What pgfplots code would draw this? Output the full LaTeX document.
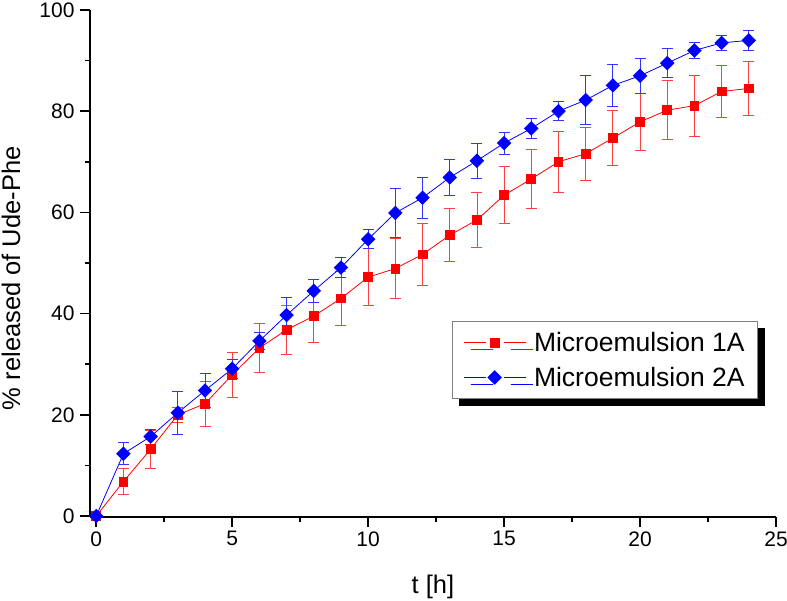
\documentclass[border=0pt]{standalone}
\usepackage{pgfplots}
\usepackage{pgfplotstable}
\pgfplotsset{compat=1.18}
\usepackage{fontspec}
\setmainfont{Liberation Sans}
\usetikzlibrary{shadows}

\pgfplotstableread{
x red rerr blue berr
0 0 0 0 0
1 6.8 2.6 12.3 2.2
2 13.2 3.7 15.7 1.5
3 20.0 1.5 20.4 4.2
4 22.2 4.4 24.8 3.4
5 27.9 4.5 29.1 1.9
6 33.2 4.8 34.6 1.6
7 36.8 4.9 39.7 3.5
8 39.5 5.2 44.5 2.3
9 43.0 5.4 49.1 2.0
10 47.2 5.6 54.7 1.9
11 48.9 5.9 59.9 4.8
12 51.7 6.1 62.9 4.1
13 55.5 5.2 66.9 3.5
14 58.5 5.4 70.2 3.5
15 63.4 5.6 73.7 2.2
16 66.6 5.9 76.6 2.0
17 70.0 6.1 80.0 1.9
18 71.6 5.2 82.2 4.8
19 74.7 5.5 85.1 4.1
20 77.9 5.6 87.0 3.4
21 80.2 5.8 89.5 2.9
22 81.1 6.0 92.0 1.5
23 83.9 5.2 93.5 1.5
24 84.5 5.4 94.0 2.0
}\datatable

\begin{document}
\begin{tikzpicture}
\begin{axis}[
  at={(0,0)}, anchor=south west,
  scale only axis,
  width=686pt, height=507pt,
  xmin=-0.23, xmax=25, ymin=-0.2, ymax=100,
  axis lines*=left,
  axis line style={line width=1.6pt},
  every tick/.style={line width=1.6pt, black},
  tick align=outside,
  major tick length=10pt, minor tick length=5pt,
  xtick={0,5,...,25}, minor xtick={2.5,7.5,...,22.5},
  ytick={0,20,...,100}, minor ytick={10,30,...,90},
  /pgf/number format/assume math mode=true,
  tick label style={font=\fontsize{21}{24}\selectfont},
  xticklabel style={yshift=-1pt},
  yticklabel style={xshift=-2pt},
  label style={font=\fontsize{25.5}{30}\selectfont},
  xlabel={t [h]}, ylabel={\% released of Ude-Phe},
  xlabel style={at={(axis description cs:0.5,-0.137)}, anchor=center},
  ylabel style={at={(axis description cs:-0.115,0.471)}, anchor=center},
  clip=false,
  legend cell align=left,
  legend image code/.code={
    \draw[#1, mark=none, line width=0.6pt] (0pt,0pt) -- (22pt,0pt);
    \draw[#1, mark=none, line width=0.6pt] (40pt,0pt) -- (62pt,0pt);
    \draw[#1, only marks] plot coordinates {(31pt,0pt)};
    \path (68pt,0pt);},
  legend style={at={(axis cs:13.08,38.54)}, anchor=north west, draw=gray, line width=0.8pt,
    font=\fontsize{26.5}{31}\selectfont, inner xsep=11pt, inner ysep=9pt,
    row sep=10pt,
    drop shadow={shadow xshift=7pt, shadow yshift=-7pt, fill=black, opacity=1}},
]
\addplot[red, line width=0.8pt, mark=square*, mark size=4.4pt, mark options={solid, fill=red},
  error bars/.cd, y dir=both, y explicit,
  error bar style={line width=0.8pt, red!75},
  error mark options={rotate=90, mark size=5.5pt, line width=0.8pt, red!75}]
  table[x=x, y=red, y error=rerr] {\datatable};
\addlegendentry{Microemulsion 1A}
\addplot[blue, line width=0.8pt, mark=square*, mark size=4.7pt, mark options={solid, fill=blue, rotate=45},
  error bars/.cd, y dir=both, y explicit,
  error bar style={line width=0.8pt, blue!80},
  error mark options={rotate=90, mark size=5.5pt, line width=0.8pt, blue!80}]
  table[x=x, y=blue, y error=berr] {\datatable};
\addlegendentry{Microemulsion 2A}
\end{axis}
\pgfresetboundingbox
\path (-90pt,-83pt) rectangle (697pt,517pt);
\end{tikzpicture}
\end{document}
